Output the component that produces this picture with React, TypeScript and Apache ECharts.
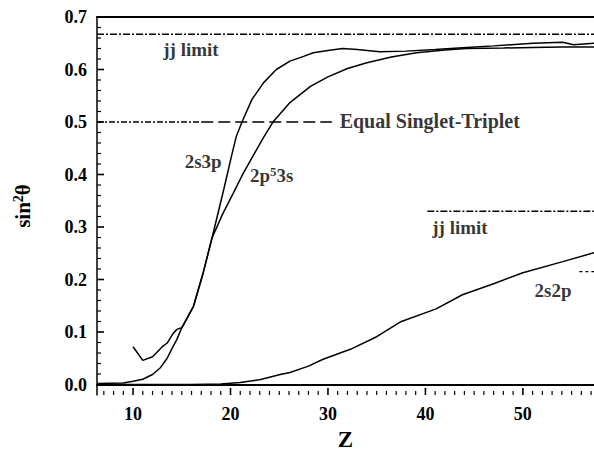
import React, { useEffect, useRef } from "react";
import * as echarts from "echarts";

// ---- data (Z, sin^2 theta) ----
const z2s3p = [10, 11, 12, 13, 13.5, 14.1, 14.5, 15, 16.2, 17.2, 18.1, 19.3, 20.1, 20.6, 21.2, 22.2, 23.4, 24.7, 26.1, 27.5, 28.5, 30, 31.5, 33, 35.3, 38, 41, 44.2, 47, 51, 54.1, 55.2, 57.3];
const v2s3p = [0.072, 0.046, 0.053, 0.072, 0.079, 0.097, 0.105, 0.108, 0.149, 0.213, 0.279, 0.371, 0.435, 0.473, 0.501, 0.543, 0.575, 0.6, 0.616, 0.625, 0.632, 0.636, 0.64, 0.638, 0.634, 0.635, 0.638, 0.642, 0.645, 0.65, 0.652, 0.647, 0.65];

const z2p53s = [6.3, 9, 10, 11, 12, 12.8, 13.5, 14.1, 14.5, 15, 16.2, 17.2, 18.1, 19.2, 20.3, 21.3, 22.3, 23.3, 24.4, 26.1, 28.2, 30, 32, 34, 36.5, 39.1, 42, 44.2, 48, 51, 54, 57.3];
const v2p53s = [0.002, 0.003, 0.006, 0.01, 0.019, 0.032, 0.05, 0.072, 0.086, 0.108, 0.149, 0.213, 0.279, 0.325, 0.365, 0.402, 0.435, 0.468, 0.501, 0.537, 0.568, 0.586, 0.602, 0.613, 0.624, 0.632, 0.637, 0.64, 0.641, 0.642, 0.643, 0.643];

const z2s2p = [6.3, 12, 16, 19, 21, 23, 25.1, 26.1, 28, 29.5, 32.3, 35, 37.4, 41.1, 43.8, 47, 50, 54.1, 57.3];
const v2s2p = [0, 0, 0, 0.001, 0.004, 0.009, 0.019, 0.023, 0.035, 0.048, 0.067, 0.091, 0.119, 0.144, 0.171, 0.192, 0.213, 0.234, 0.251];

// reference levels: [zStart, zEnd, value]
const jjLimitUpper = [6.3, 57.3, 0.667];
const equalSingletTripletA = [6.3, 17, 0.5];
const equalSingletTripletB = [17, 30.4, 0.5];
const jjLimitLower = [40.2, 57.3, 0.33];
const jjLimitStub = [55.8, 57.3, 0.215];

// annotations
const annoText = ["jj limit", "2s3p", "{n|2p}{s|5}{n|3s}", "Equal Singlet-Triplet", "jj limit", "2s2p"];
const annoZ = [13.1, 15.3, 22.0, 31.2, 40.7, 51.2];
const annoV = [0.638, 0.425, 0.398, 0.501, 0.299, 0.179];

// axes
const xMin = 6.3;
const xMax = 57.3;
const yMin = -0.02;
const yMax = 0.7;
const xMajorTicks = [10, 20, 30, 40, 50];
const yMajorTicks = [0, 0.1, 0.2, 0.3, 0.4, 0.5, 0.6, 0.7];

const FONT = "'Liberation Serif', 'DejaVu Serif', serif";

const pairs = (z: number[], v: number[]) => z.map((x, i) => [x, v[i]]);
const level = (l: number[]) => [[l[0], l[2]], [l[1], l[2]]];

export default function App() {
  const ref = useRef<HTMLDivElement>(null);
  useEffect(() => {
    const chart = echarts.init(ref.current!, null, { renderer: "svg" });

    const black = "#000";
    const lineSeries = (data: any[], width: number, type: any) => ({
      type: "line",
      data,
      symbol: "none",
      silent: true,
      lineStyle: { color: black, width, type },
    });

    // inward tick marks: anchor points on the axes, drawn as thin rect symbols
    const xMajorPts: number[][] = [];
    const xMinorPts: number[][] = [];
    for (let z = 7; z <= 57; z++) (z % 10 === 0 ? xMajorPts : xMinorPts).push([z, yMin]);
    const yMajorPts: number[][] = [];
    const yMinorPts: number[][] = [];
    for (let k = 0; k <= 35; k++) (k % 5 === 0 ? yMajorPts : yMinorPts).push([xMin, k / 50]);

    const tickSeries = (data: number[][], size: number[], offset: number[]) => ({
      type: "scatter",
      data,
      silent: true,
      clip: false,
      symbol: "rect",
      symbolSize: size,
      symbolOffset: offset,
      itemStyle: { color: black, opacity: 1 },
      z: 5,
    });

    const labelRich = {
      n: { fontFamily: FONT, fontWeight: "bold", fontSize: 19, lineHeight: 22, color: black },
      s: { fontFamily: FONT, fontWeight: "bold", fontSize: 13, lineHeight: 13, verticalAlign: "top", color: black },
    };

    chart.setOption({
      animation: false,
      backgroundColor: "#fff",
      grid: { left: 97, right: 0, top: 17, bottom: 56, outerBoundsMode: "none", containLabel: false },
      xAxis: [
        {
          type: "value",
          min: xMin,
          max: xMax,
          position: "bottom",
          splitLine: { show: false },
          axisLine: { show: true, lineStyle: { color: black, width: 2 } },
          axisTick: { show: false },
          axisLabel: {
            customValues: xMajorTicks,
            margin: 10,
            color: black,
            fontFamily: FONT,
            fontWeight: "bold",
            fontSize: 18,
          },
          name: "Z",
          nameLocation: "middle",
          nameGap: 32,
          nameTextStyle: { fontFamily: FONT, fontWeight: "bold", fontSize: 23, lineHeight: 23, color: black },
        },
        {
          type: "value",
          min: xMin,
          max: xMax,
          position: "top",
          splitLine: { show: false },
          axisLine: { show: true, lineStyle: { color: black, width: 2 } },
          axisTick: { show: false },
          axisLabel: { show: false },
        },
      ],
      yAxis: [
        {
          type: "value",
          min: yMin,
          max: yMax,
          position: "left",
          splitLine: { show: false },
          axisLine: { show: true, lineStyle: { color: black, width: 1.5 } },
          axisTick: { show: false },
          axisLabel: {
            customValues: yMajorTicks,
            formatter: (v: number) => v.toFixed(1),
            margin: 10,
            color: black,
            fontFamily: FONT,
            fontWeight: "bold",
            fontSize: 18,
          },
          name: "{n|sin}{s|2}{n|θ}",
          nameLocation: "middle",
          nameGap: 62,
          nameTextStyle: {
            color: black,
            rich: {
              n: { fontFamily: FONT, fontWeight: "bold", fontSize: 21, lineHeight: 24, color: black },
              s: { fontFamily: FONT, fontWeight: "bold", fontSize: 14, lineHeight: 14, verticalAlign: "top", color: black },
            },
          },
        },
      ],
      series: [
        lineSeries(pairs(z2s3p, v2s3p), 1.5, "solid"),
        lineSeries(pairs(z2p53s, v2p53s), 1.5, "solid"),
        lineSeries(pairs(z2s2p, v2s2p), 1.5, "solid"),
        lineSeries(level(jjLimitUpper), 1.5, [7, 2, 2, 2]),
        lineSeries(level(equalSingletTripletA), 1.5, [6, 2, 2, 2]),
        lineSeries(level(equalSingletTripletB), 1.5, [12, 5]),
        lineSeries(level(jjLimitLower), 1.5, [7, 2, 2, 2]),
        lineSeries(level(jjLimitStub), 1.2, [3, 3]),
        tickSeries(xMajorPts, [1.6, 7], [0, -3.5]),
        tickSeries(xMinorPts, [1.2, 4], [0, -2]),
        tickSeries(yMajorPts, [7, 1.6], [3.5, 0]),
        tickSeries(yMinorPts, [4, 1.2], [2, 0]),
        {
          type: "scatter",
          symbolSize: 0,
          silent: true,
          data: annoText.map((t, i) => ({
            value: [annoZ[i], annoV[i]],
            label: {
              show: true,
              formatter: t,
              position: [0, 0],
              align: "left",
              verticalAlign: "middle",
              color: black,
              fontFamily: FONT,
              fontWeight: "bold",
              fontSize: i === 3 ? 20 : 19,
              rich: i === 2 ? labelRich : undefined,
            },
          })),
        },
      ],
    });

    return () => chart.dispose();
  }, []);
  return (
    <div
      ref={ref}
      style={{ position: "fixed", left: 0, top: 0, width: 594, height: 451, background: "#fff" }}
    />
  );
}
